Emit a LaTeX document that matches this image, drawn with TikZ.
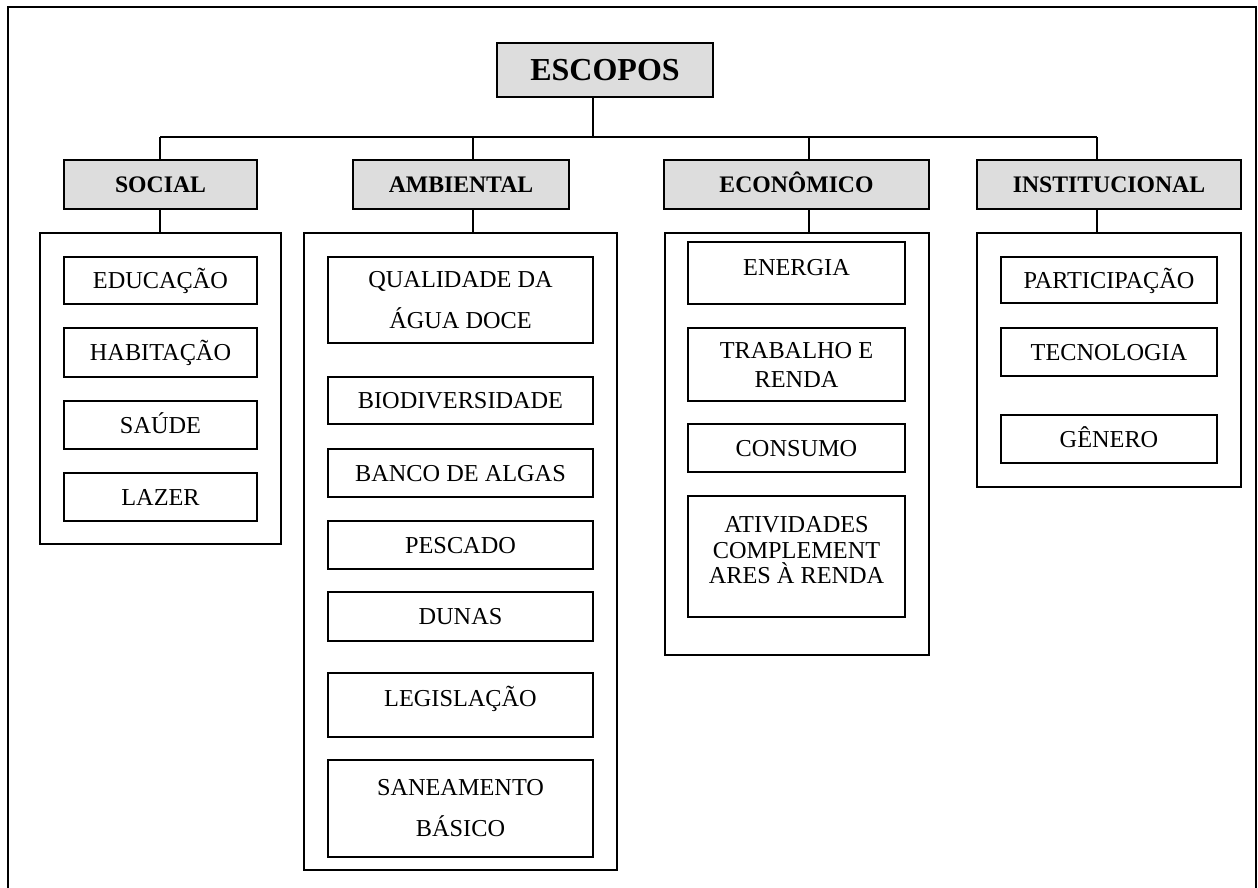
\documentclass[tikz,border=0pt]{standalone}
\usepackage{fontspec}
\setmainfont{Liberation Serif}
\definecolor{boxgray}{HTML}{DDDDDD}
\tikzset{
  frameline/.style={line width=2pt},
  conn/.style={line width=1.6pt},
  catbox/.style={draw, line width=2.4pt, fill=boxgray, inner sep=0pt, minimum height=49pt,
    text height=16pt, text depth=0pt,
    font=\fontsize{23.7}{28}\selectfont\bfseries},
  topbox/.style={draw, line width=2.4pt, fill=boxgray, inner sep=0pt, minimum width=216pt, minimum height=54pt,
    text height=21.5pt, text depth=0pt,
    font=\fontsize{32}{38}\selectfont\bfseries},
  contbox/.style={draw, line width=2pt, inner sep=0pt},
  itembase/.style={draw, line width=1.9pt, inner sep=0pt, align=center,
    font=\fontsize{24.3}{26}\selectfont},
  itembox/.style={itembase, text height=16pt, text depth=0pt},
  itemtext/.style={inner sep=0pt, align=center, font=\fontsize{24.3}{25.5}\selectfont},
  onetext/.style={itemtext, text height=16pt, text depth=0pt},
}
\begin{document}
\begin{tikzpicture}[x=1pt, y=-1pt]
\useasboundingbox (0,0) rectangle (1258,888);
% outer frame (open at the bottom)
\draw[frameline] (8,888) -- (8,7) -- (1256,7) -- (1256,888);

% top node
\node[topbox] (escopos) at (605,70) {ESCOPOS};

% categories
\node[catbox, minimum width=193pt] (social) at (160.5,184.5) {SOCIAL};
\node[catbox, minimum width=216pt] (ambiental) at (461,184.5) {AMBIENTAL};
\node[catbox, minimum width=265pt] (economico) at (796.5,184.5) {ECONÔMICO};
\node[catbox, minimum width=264pt] (institucional) at (1109,184.5) {INSTITUCIONAL};

% containers
\node[contbox, minimum width=241pt, minimum height=311pt] (socialC) at (160.5,388.5) {};
\node[contbox, minimum width=313pt, minimum height=637pt] (ambientalC) at (460.5,551.5) {};
\node[contbox, minimum width=264pt, minimum height=422pt] (economicoC) at (797,444) {};
\node[contbox, minimum width=264pt, minimum height=254pt] (institucionalC) at (1109,360) {};

% junction coordinates
\coordinate (hub) at (593,137);
\coordinate (jS) at (160,137);
\coordinate (jA) at (473,137);
\coordinate (jE) at (809,137);
\coordinate (jI) at (1097,137);

% connectors
\draw[conn] (hub |- escopos.south) -- ([yshift=-1pt]hub);
\draw[conn] (jS) -- (jI);
\draw[conn] (jS) -- (jS |- social.north);
\draw[conn] (jA) -- (jA |- ambiental.north);
\draw[conn] (jE) -- (jE |- economico.north);
\draw[conn] (jI) -- (jI |- institucional.north);
\draw[conn] (jS |- social.south) -- (jS |- socialC.north);
\draw[conn] (jA |- ambiental.south) -- (jA |- ambientalC.north);
\draw[conn] (jE |- economico.south) -- (jE |- economicoC.north);
\draw[conn] (jI |- institucional.south) -- (jI |- institucionalC.north);

% social items
\node[itembox, minimum width=193pt, minimum height=47pt] (educacao) at (160.5,280.5) {EDUCAÇÃO};
\node[itembox, minimum width=193pt, minimum height=49pt] (habitacao) at (160.5,352.5) {HABITAÇÃO};
\node[itembox, minimum width=193pt, minimum height=48pt] (saude) at (160.5,425) {SAÚDE};
\node[itembox, minimum width=193pt, minimum height=48pt] (lazer) at (160.5,497) {LAZER};

% ambiental items
\node[itembase, minimum width=265pt, minimum height=86pt] (agua) at (460.5,300) {QUALIDADE DA\\[15pt]ÁGUA DOCE};
\node[itembox, minimum width=265pt, minimum height=47pt] (biodiv) at (460.5,400.5) {BIODIVERSIDADE};
\node[itembox, minimum width=265pt, minimum height=48pt] (algas) at (460.5,473) {BANCO DE ALGAS};
\node[itembox, minimum width=265pt, minimum height=48pt] (pescado) at (460.5,545) {PESCADO};
\node[itembox, minimum width=265pt, minimum height=49pt] (dunas) at (460.5,616.5) {DUNAS};
\node[itembox, minimum width=265pt, minimum height=64pt] (legis) at (460.5,705) {};
\node[onetext] (legisT) at ([yshift=7pt]legis.center) {LEGISLAÇÃO};
\node[itembase, minimum width=265pt, minimum height=97pt] (saneam) at (460.5,808.5) {SANEAMENTO\\[15pt]BÁSICO};

% economico items
\node[itembox, minimum width=217pt, minimum height=62pt] (energia) at (796.5,273) {};
\node[onetext] (energiaT) at ([yshift=5.5pt]energia.center) {ENERGIA};
\node[itembase, minimum width=217pt, minimum height=73pt] (trabalho) at (796.5,364.5) {TRABALHO E\\[3pt]RENDA};
\node[itembox, minimum width=217pt, minimum height=48pt] (consumo) at (796.5,448) {CONSUMO};
\node[itembox, minimum width=217pt, minimum height=121pt] (ativ) at (796.5,556.5) {};
\node[itemtext] (ativT) at ([yshift=6pt]ativ.center) {ATIVIDADES\\COMPLEMENT\\ARES À RENDA};

% institucional items
\node[itembox, minimum width=216pt, minimum height=46pt] (particip) at (1109,280) {PARTICIPAÇÃO};
\node[itembox, minimum width=216pt, minimum height=48pt] (tecno) at (1109,352) {TECNOLOGIA};
\node[itembox, minimum width=216pt, minimum height=48pt] (genero) at (1109,439) {GÊNERO};
\end{tikzpicture}
\end{document}
